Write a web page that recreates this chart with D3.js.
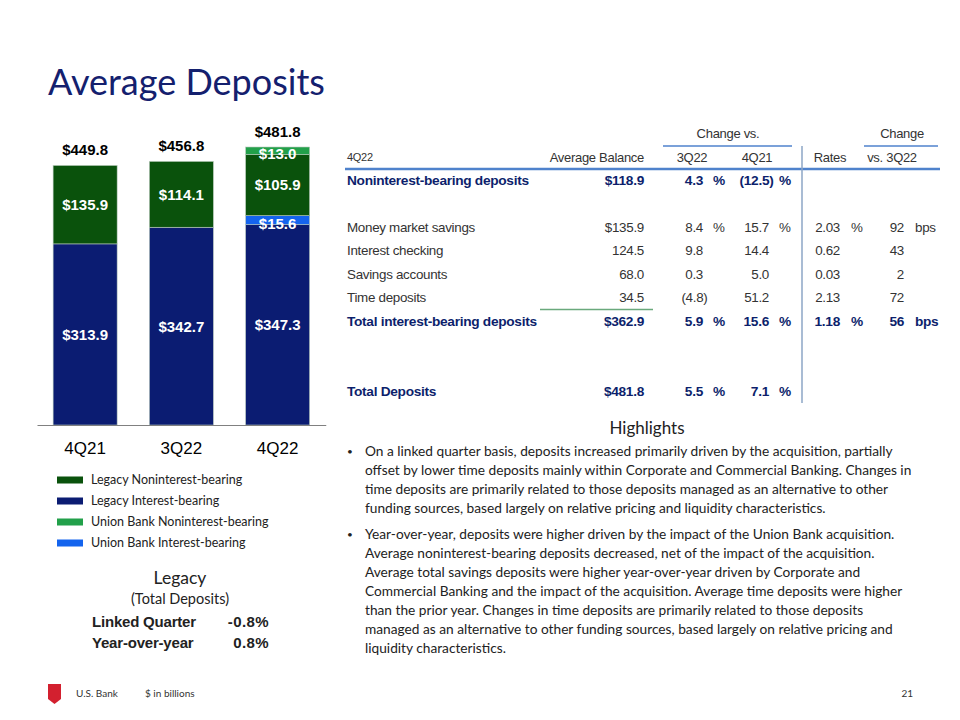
<!DOCTYPE html>
<html>
<head>
<meta charset="utf-8">
<script src="https://cdn.jsdelivr.net/npm/d3@7"></script>
<style>
  body { margin: 0; background: #fff; }
  svg { display: block; }
</style>
</head>
<body>
<svg id="chart" width="960" height="720"></svg>
<script>
// bar chart data ($ in billions)
var categories = ["4Q21", "3Q22", "4Q22"];
var legacyInterest = [313.9, 342.7, 347.3];
var unionInterest = [0, 0, 15.6];
var legacyNonint = [135.9, 114.1, 105.9];
var unionNonint = [0, 0, 13.0];
var totals = [449.8, 456.8, 481.8];

var seriesKeys = ["legacyInterest", "unionInterest", "legacyNonint", "unionNonint"];
var seriesColors = {
  legacyInterest: "#0b1c72",
  unionInterest: "#1464ee",
  legacyNonint: "#0a520c",
  unionNonint: "#22a04a"
};

var legendLabels = ["Legacy Noninterest-bearing", "Legacy Interest-bearing", "Union Bank Noninterest-bearing", "Union Bank Interest-bearing"];
var legendKeys = ["legacyNonint", "legacyInterest", "unionNonint", "unionInterest"];

var legacyLabels = ["Linked Quarter", "Year-over-year"];
var legacyValues = ["-0.8%", "0.8%"];

// table data
var rowLabels = ["Noninterest-bearing deposits", "Money market savings", "Interest checking", "Savings accounts", "Time deposits", "Total interest-bearing deposits", "Total Deposits"];
var rowSlots = [0, 2, 3, 4, 5, 6, 9];
var rowBold = [true, false, false, false, false, true, true];
var balances = ["$118.9", "$135.9", "124.5", "68.0", "34.5", "$362.9", "$481.8"];
var chg3Q22 = ["4.3", "8.4", "9.8", "0.3", "(4.8)", "5.9", "5.5"];
var chg4Q21 = ["(12.5)", "15.7", "14.4", "5.0", "51.2", "15.6", "7.1"];
var pctShown = [true, true, false, false, false, true, true];
var rates = ["", "2.03", "0.62", "0.03", "2.13", "1.18", ""];
var rateChg = ["", "92", "43", "2", "72", "56", ""];
var unitShown = [false, true, false, false, false, true, false];

var para1 = [
  "On a linked quarter basis, deposits increased primarily driven by the acquisition, partially",
  "offset by lower time deposits mainly within Corporate and Commercial Banking. Changes in",
  "time deposits are primarily related to those deposits managed as an alternative to other",
  "funding sources, based largely on relative pricing and liquidity characteristics."
];
var para2 = [
  "Year-over-year, deposits were higher driven by the impact of the Union Bank acquisition.",
  "Average noninterest-bearing deposits decreased, net of the impact of the acquisition.",
  "Average total savings deposits were higher year-over-year driven by Corporate and",
  "Commercial Banking and the impact of the acquisition. Average time deposits were higher",
  "than the prior year. Changes in time deposits are primarily related to those deposits",
  "managed as an alternative to other funding sources, based largely on relative pricing and",
  "liquidity characteristics."
];

var ARIAL = "'Liberation Sans', Arial, sans-serif";
var CALI = "Lato, 'Open Sans', sans-serif";
var NAVY = "#0d1f6c";

var svg = d3.select("#chart");

function fitWidth(sel, target) {
  var w = sel.node().getComputedTextLength();
  var fs = parseFloat(sel.attr("font-size"));
  sel.attr("font-size", (fs * target / w).toFixed(2));
  return fs * target / w;
}

// title
var title = svg.append("text")
  .attr("x", 48).attr("y", 95)
  .attr("font-family", CALI).attr("font-size", 36)
  .attr("fill", "#14206e")
  .text("Average Deposits");
fitWidth(title, 277);

// ---------- stacked bars ----------
var rows = categories.map(function(c, i) {
  return { cat: c, legacyInterest: legacyInterest[i], unionInterest: unionInterest[i],
           legacyNonint: legacyNonint[i], unionNonint: unionNonint[i], total: totals[i] };
});

var x = d3.scaleBand().domain(categories).range([37, 325.75])
  .paddingInner(0.335).paddingOuter(0.1675);
var y = d3.scaleLinear().domain([0, 500]).range([425, 136.5]);

var stacked = d3.stack().keys(seriesKeys)(rows);

var layers = svg.append("g").selectAll("g")
  .data(stacked).enter().append("g")
  .attr("fill", function(d) { return seriesColors[d.key]; });

layers.selectAll("rect")
  .data(function(d) { return d; })
  .enter().append("rect")
  .attr("x", function(d) { return x(d.data.cat); })
  .attr("width", x.bandwidth())
  .attr("y", function(d) { return y(d[1]); })
  .attr("height", function(d) { return y(d[0]) - y(d[1]); })
  .attr("stroke", "#b9cbbd").attr("stroke-width", 0.6);

// segment labels
layers.each(function(layer) {
  d3.select(this).selectAll("text.seg")
    .data(layer.filter(function(d) { return d[1] - d[0] > 0; }))
    .enter().append("text")
    .attr("class", "seg")
    .attr("x", function(d) { return x(d.data.cat) + x.bandwidth() / 2; })
    .attr("y", function(d) {
      var mid = (y(d[0]) + y(d[1])) / 2;
      return mid + (y(d[0]) - y(d[1]) < 10 ? 3 : 0);
    })
    .attr("dy", "0.36em")
    .attr("text-anchor", "middle")
    .attr("font-family", ARIAL).attr("font-weight", "bold").attr("font-size", 15)
    .attr("fill", "#fff")
    .text(function(d) { return "$" + (d[1] - d[0]).toFixed(1); });
});

// totals
svg.append("g").selectAll("text")
  .data(rows).enter().append("text")
  .attr("x", function(d) { return x(d.cat) + x.bandwidth() / 2; })
  .attr("y", function(d) { return y(d.total) - 10; })
  .attr("text-anchor", "middle")
  .attr("font-family", ARIAL).attr("font-weight", "bold").attr("font-size", 15)
  .attr("fill", "#000")
  .text(function(d) { return "$" + d.total.toFixed(1); });

// axis
var xAxis = svg.append("g")
  .attr("transform", "translate(0,425)")
  .call(d3.axisBottom(x).tickSize(0).tickSizeOuter(0).tickPadding(17));
xAxis.attr("font-family", ARIAL);
xAxis.select(".domain").attr("stroke", "#808080").attr("stroke-width", 1.2);
xAxis.selectAll("text")
  .attr("font-family", ARIAL).attr("font-size", 17).attr("fill", "#000");

// legend
var ly = d3.scaleLinear().domain([0, 3]).range([480, 543]);
var legend = svg.append("g").selectAll("g")
  .data(legendKeys).enter().append("g")
  .attr("transform", function(d, i) { return "translate(0," + ly(i) + ")"; });
legend.append("rect")
  .attr("x", 57).attr("y", -3.5).attr("width", 26).attr("height", 7)
  .attr("fill", function(d) { return seriesColors[d]; });
legend.append("text")
  .attr("x", 91).attr("dy", "0.35em")
  .attr("font-family", CALI).attr("font-size", 12.5).attr("fill", "#222")
  .text(function(d, i) { return legendLabels[i]; });

// legacy box
svg.append("text").attr("x", 180).attr("y", 584).attr("text-anchor", "middle")
  .attr("font-family", CALI).attr("font-size", 17.5).attr("fill", "#222").text("Legacy");
svg.append("text").attr("x", 180).attr("y", 604).attr("text-anchor", "middle")
  .attr("font-family", CALI).attr("font-size", 14.5).attr("fill", "#222").text("(Total Deposits)");
var ls = d3.scaleLinear().domain([0, 1]).range([627, 648]);
svg.append("g").selectAll("text")
  .data(legacyLabels).enter().append("text")
  .attr("x", 92).attr("y", function(d, i) { return ls(i); })
  .attr("font-family", ARIAL).attr("font-weight", "bold").attr("font-size", 15)
  .attr("letter-spacing", "-0.2").attr("fill", "#222")
  .text(function(d) { return d; });
svg.append("g").selectAll("text")
  .data(legacyValues).enter().append("text")
  .attr("x", 269).attr("y", function(d, i) { return ls(i); })
  .attr("text-anchor", "end")
  .attr("font-family", ARIAL).attr("font-weight", "bold").attr("font-size", 15)
  .attr("letter-spacing", "0.4").attr("fill", "#222")
  .text(function(d) { return d; });

// ---------- table ----------
var tbl = svg.append("g").attr("font-family", ARIAL).attr("font-size", 13).attr("letter-spacing", "-0.3");
var ry = d3.scaleLinear().domain([0, 9]).range([180, 391.5]);

function hdr(txt, xx, yy, anchor, size) {
  tbl.append("text").attr("x", xx).attr("y", yy).attr("dy", "0.35em")
    .attr("text-anchor", anchor).attr("font-size", size || 13).attr("fill", "#333").text(txt);
}
hdr("Change vs.", 728, 133, "middle");
hdr("Change", 902, 133, "middle");
hdr("4Q22", 347, 157, "start", 11);
hdr("Average Balance", 644, 157, "end");
hdr("3Q22", 692, 157, "middle");
hdr("4Q21", 757, 157, "middle");
hdr("Rates", 830, 157, "middle");
hdr("vs. 3Q22", 892, 157, "middle");

tbl.append("line").attr("x1", 663).attr("x2", 792).attr("y1", 146).attr("y2", 146)
  .attr("stroke", "#4f82cc").attr("stroke-width", 1.5);
tbl.append("line").attr("x1", 864).attr("x2", 938).attr("y1", 146).attr("y2", 146)
  .attr("stroke", "#4f82cc").attr("stroke-width", 1.5);
tbl.append("line").attr("x1", 345).attr("x2", 940).attr("y1", 169).attr("y2", 169)
  .attr("stroke", "#4f82cc").attr("stroke-width", 2.5);
tbl.append("line").attr("x1", 802).attr("x2", 802).attr("y1", 146).attr("y2", 403)
  .attr("stroke", "#8da6c6").attr("stroke-width", 1.5);
tbl.append("line").attr("x1", 540).attr("x2", 653).attr("y1", 309.5).attr("y2", 309.5)
  .attr("stroke", "#6aa97c").attr("stroke-width", 1.5);

var trow = tbl.selectAll("g.row")
  .data(rowLabels).enter().append("g")
  .attr("class", "row")
  .attr("transform", function(d, i) { return "translate(0," + ry(rowSlots[i]) + ")"; })
  .attr("fill", function(d, i) { return rowBold[i] ? NAVY : "#333"; })
  .attr("font-size", function(d, i) { return rowBold[i] ? 13.7 : 13.4; })
  .attr("font-weight", function(d, i) { return rowBold[i] ? "bold" : "normal"; });

function cell(arr, xx, anchor, paren) {
  trow.append("text")
    .attr("x", function(d, i) { return xx + (paren && /\)$/.test(arr[i]) ? 4.5 : 0); })
    .attr("dy", "0.35em").attr("text-anchor", anchor)
    .text(function(d, i) { return arr[i]; });
}
cell(rowLabels, 347, "start");
cell(balances, 644, "end");
cell(chg3Q22, 703, "end", true);
cell(chg4Q21, 769, "end", true);
cell(rates, 840, "end");
cell(rateChg, 904, "end");
cell(pctShown.map(function(s) { return s ? "%" : ""; }), 713, "start");
cell(pctShown.map(function(s) { return s ? "%" : ""; }), 779, "start");
cell(unitShown.map(function(s) { return s ? "%" : ""; }), 851, "start");
cell(unitShown.map(function(s) { return s ? "bps" : ""; }), 915, "start");

// ---------- highlights ----------
svg.append("text").attr("x", 647).attr("y", 434).attr("text-anchor", "middle")
  .attr("font-family", CALI).attr("font-size", 17).attr("fill", "#222").text("Highlights");

var probe = svg.append("text").attr("font-family", CALI).attr("font-size", 14).text(para1[0]);
var hfs = fitWidth(probe, 528);
probe.remove();

function para(lines, y0) {
  var g = svg.append("g").attr("font-family", CALI).attr("font-size", hfs).attr("fill", "#222");
  g.append("text").attr("x", 347).attr("y", y0 - 1).attr("font-size", 10).text("\u2022");
  g.selectAll("text.l").data(lines).enter().append("text")
    .attr("class", "l").attr("x", 365)
    .attr("y", function(d, i) { return y0 + i * 19; })
    .text(function(d) { return d; });
}
para(para1, 456);
para(para2, 539);

// ---------- footer ----------
svg.append("path")
  .attr("d", "M48,684 L61,684 L61,699 L54.5,704 L48,699 Z")
  .attr("fill", "#d3202f");
svg.append("text").attr("x", 76).attr("y", 697)
  .attr("font-family", CALI).attr("font-size", 10).attr("fill", "#333").text("U.S. Bank");
svg.append("text").attr("x", 145).attr("y", 697)
  .attr("font-family", CALI).attr("font-size", 10).attr("fill", "#333").text("$ in billions");
svg.append("text").attr("x", 913).attr("y", 697).attr("text-anchor", "end")
  .attr("font-family", CALI).attr("font-size", 10).attr("fill", "#333").text("21");
</script>
</body>
</html>
